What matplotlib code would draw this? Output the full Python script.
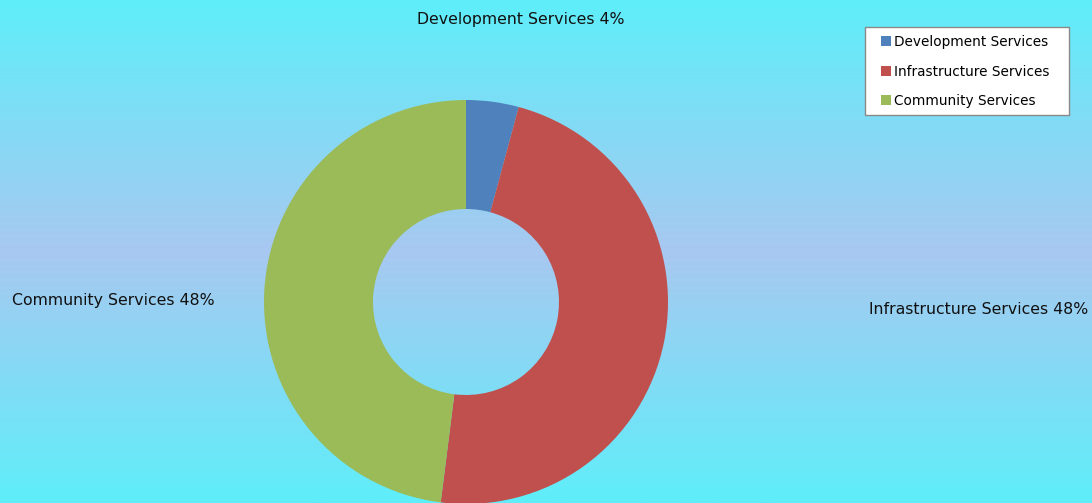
import numpy as np
import matplotlib.pyplot as plt
from matplotlib.patches import Patch, Rectangle

categories = ['Development Services', 'Infrastructure Services', 'Community Services']
shares = [4.2, 47.8, 48.0]
pct_labels = ['4%', '48%', '48%']
colors = ['#4F81BD', '#C0504D', '#9BBB59']

W, H = 1092, 503
fig = plt.figure(figsize=(W / 100, H / 100), dpi=100)
ax = fig.add_axes([0, 0, 1, 1])

# vertical gradient: cyan at top/bottom, lavender-blue in the middle
top = np.array([94, 238, 250]) / 255
mid = np.array([168, 200, 240]) / 255
t = np.linspace(0, 1, 256)
w = 1 - np.abs(t - 0.5) * 2
grad = top[None, :] * (1 - w[:, None]) + mid[None, :] * w[:, None]
ax.imshow(grad[:, None, :], extent=(0, W, H, 0), aspect='auto', zorder=0)

cx, cy, r_out, r_in = 466, 302, 202, 93
# y axis is inverted, so start at -90 (screen top) and go "counterclock" = clockwise on screen
ax.pie(shares, colors=colors, center=(cx, cy), radius=r_out, startangle=-90,
       counterclock=True, frame=True,
       wedgeprops=dict(width=r_out - r_in, edgecolor='none'))
ax.set_xlim(0, W)
ax.set_ylim(H, 0)
ax.set_aspect('equal')
ax.axis('off')

font = 'DejaVu Sans'
ax.text(521, 19, f'{categories[0]} {pct_labels[0]}', ha='center', va='center',
        fontsize=11.3, color='#111111', family=font)
ax.text(12, 301, f'{categories[2]} {pct_labels[2]}', ha='left', va='center',
        fontsize=11.3, color='#111111', family=font)
ax.text(1088, 310, f'{categories[1]} {pct_labels[1]}', ha='right', va='center',
        fontsize=11.3, color='#111111', family=font)

# legend box drawn by hand (wider side padding than matplotlib's frame allows)
ax.add_patch(Rectangle((865, 27), 204, 88, facecolor='white', edgecolor='#8a8a8a',
                       linewidth=1.0, zorder=5))
handles = [Patch(facecolor=c, edgecolor='none') for c in colors]
leg = fig.legend(handles, categories, loc='upper left', bbox_to_anchor=(873 / W, 1 - 27 / H),
                 frameon=False, handlelength=0.75, handleheight=0.75,
                 handletextpad=0.2, labelspacing=1.13, borderpad=0.6, borderaxespad=0,
                 prop=dict(family=font, size=9.8))
leg.set_zorder(6)

fig.savefig('out.png', dpi=100)
